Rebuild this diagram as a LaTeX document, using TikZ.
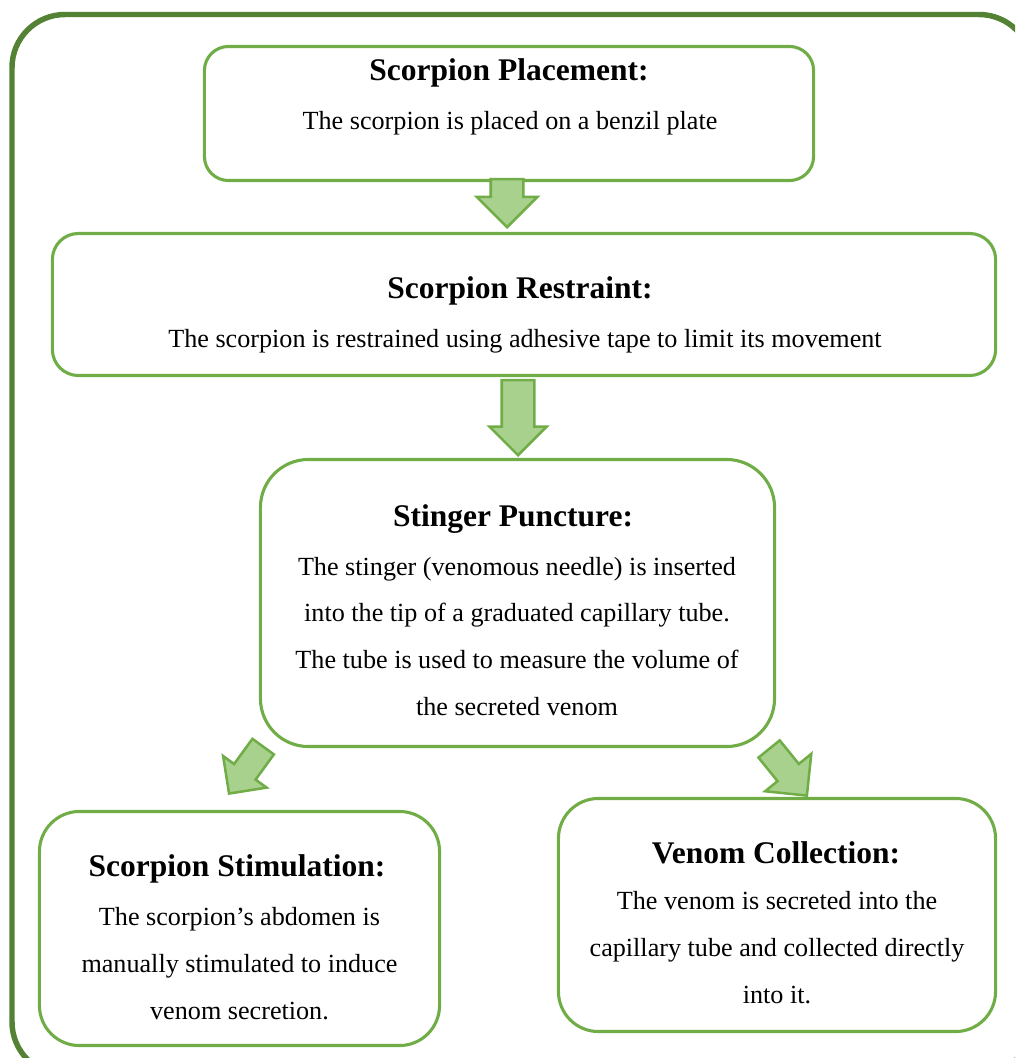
\documentclass[tikz,border=0pt]{standalone}
\usepackage{fontspec}
\setmainfont{Liberation Serif}
\usetikzlibrary{positioning,shapes.arrows}

\definecolor{framegreen}{HTML}{548235}
\definecolor{boxgreen}{HTML}{70AD47}
\definecolor{arrowgreen}{HTML}{A9D18E}

\begin{document}
\begin{tikzpicture}[
    x=0.025cm,y=-0.025cm,
    stepbox/.style={rectangle,draw=boxgreen,line width=2.2pt,fill=white,inner sep=0pt},
    steptitle/.style={font=\fontsize{22.4}{26}\selectfont\bfseries,inner sep=0pt},
    steptext/.style={font=\fontsize{18.6}{33.4}\selectfont,align=center,inner sep=0pt},
    blockarrow/.style={single arrow,draw=boxgreen,fill=arrowgreen,line width=1.8pt,inner xsep=0pt,anchor=tip}
    ]

    \useasboundingbox (0,0) rectangle (1015,1058);
    \clip (0,0) rectangle (1015,1058);
    \draw[framegreen,line width=3.9pt,rounded corners=1.325cm] (12,14.5) rectangle (1032,1075);

    % boxes
    \node (placement) [stepbox,rounded corners=0.6cm,minimum width=15.225cm,minimum height=3.35cm] at (509,113.5) {};
    \node (restraint) [stepbox,rounded corners=0.65cm,minimum width=23.575cm,minimum height=3.55cm] at (524,304.5) {};
    \node (puncture) [stepbox,rounded corners=1.2cm,minimum width=12.85cm,minimum height=7.175cm] at (517.5,603) {};
    \node (stimulation) [stepbox,rounded corners=1cm,minimum width=10cm,minimum height=5.85cm] at (239.5,928.5) {};
    \node (collection) [stepbox,rounded corners=1cm,minimum width=10.925cm,minimum height=5.825cm] at (777,915) {};

    % texts
    \node (placement-title) [steptitle] at (509,73) {Scorpion Placement:};
    \node (placement-text) [steptext] at (510,123) {The scorpion is placed on a benzil plate};

    \node (restraint-title) [steptitle] at (520,291) {Scorpion Restraint:};
    \node (restraint-text) [steptext] at (525,341) {The scorpion is restrained using adhesive tape to limit its movement};

    \node (puncture-title) [steptitle] at (513,519) {Stinger Puncture:};
    \node (puncture-text) [steptext] at (517,636.5) {
      The stinger (venomous needle) is inserted\\
      into the tip of a graduated capillary tube.\\
      The tube is used to measure the volume of\\
      the secreted venom
    };

    \node (stimulation-title) [steptitle] at (237,869) {Scorpion Stimulation:};
    \node (stimulation-text) [steptext] at (239.5,963.5) {
      The scorpion's abdomen is\\
      manually stimulated to induce\\
      venom secretion.
    };

    \node (collection-title) [steptitle] at (776,853) {Venom Collection:};
    \node (collection-text) [steptext] at (777,948) {
      The venom is secreted into the\\
      capillary tube and collected directly\\
      into it.
    };

    % arrows
    \node (arrow0) [blockarrow,rotate=-90,minimum height=1.2cm,inner ysep=0.375cm,single arrow head extend=0.35cm] at (507,229) {};
    \node (arrow1) [blockarrow,rotate=-90,minimum height=1.875cm,inner ysep=0.375cm,single arrow head extend=0.31cm] at (518,457) {};
    \node (arrow2) [blockarrow,rotate=234,minimum height=1.45cm,inner ysep=0.3cm,single arrow head extend=0.34cm] at (228,795) {};
    \node (arrow3) [blockarrow,rotate=-51,minimum height=1.5cm,inner ysep=0.31cm,single arrow head extend=0.4cm] at (808,797) {};

\end{tikzpicture}
\end{document}
